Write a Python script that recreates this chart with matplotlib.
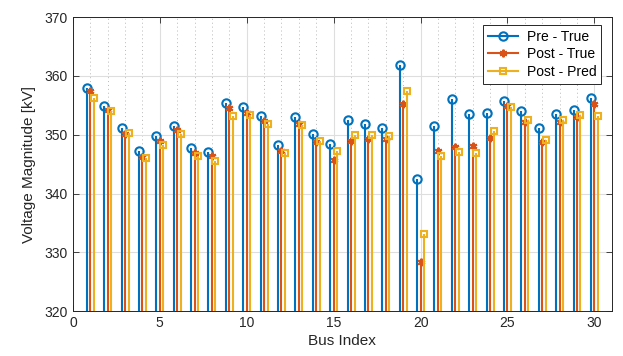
import matplotlib
matplotlib.use("Agg")
import matplotlib.pyplot as plt
import numpy as np
from matplotlib.legend_handler import HandlerLine2D
from matplotlib.lines import Line2D
from matplotlib.ticker import MultipleLocator

plt.rcParams["font.family"] = ["Liberation Sans", "DejaVu Sans"]

bus = np.arange(1, 31)
pre_true = [358.0, 354.8, 351.15, 347.3, 349.7, 351.55, 347.8, 347.1, 355.4, 354.65,
            353.2, 348.3, 352.95, 350.2, 348.5, 352.5, 351.8, 351.1, 361.9, 342.5,
            351.5, 356.1, 353.6, 353.7, 355.8, 354.1, 351.1, 353.5, 354.2, 356.2]
post_true = [357.4, 354.25, 350.2, 346.15, 348.85, 350.75, 346.9, 346.3, 354.5, 353.7,
             352.3, 347.3, 351.8, 348.7, 345.7, 349.0, 349.2, 349.3, 355.3, 328.3,
             347.3, 347.9, 348.0, 349.5, 354.8, 352.1, 348.7, 352.1, 352.95, 355.2]
post_pred = [356.2, 354.1, 350.25, 346.0, 348.3, 350.2, 346.3, 345.6, 353.1, 353.35,
             351.9, 346.9, 351.6, 348.9, 347.2, 349.9, 350.0, 349.85, 357.5, 333.2,
             346.4, 347.1, 346.9, 350.7, 354.65, 352.45, 349.1, 352.45, 353.4, 353.1]
labels = ["Pre - True", "Post - True", "Post - Pred"]

colors = ["#0072BD", "#D95319", "#EDB120"]
markers = ["o", (6, 2, 0), "s"]
msizes = [6, 5.5, 4.5]
offsets = [-0.2, 0.0, 0.2]


class RightMarkerHandler(HandlerLine2D):
    # MATLAB-style legend: marker sits at the right end of the line
    def get_xdata(self, legend, xdescent, ydescent, width, height, fontsize):
        xdata = [-xdescent, -xdescent + width]
        return xdata, [-xdescent + width - 2]


fig = plt.figure(figsize=(6.23, 3.56), dpi=100)
ax = fig.add_axes([0.117, 0.126, 0.865, 0.826])

handles = []
for vals, c, m, ms, off, lab in zip([pre_true, post_true, post_pred], colors,
                                     markers, msizes, offsets, labels):
    st = ax.stem(bus + off, vals, bottom=0, basefmt=" ")
    st.stemlines.set_color(c)
    st.stemlines.set_linewidth(1.5)
    ml = st.markerline
    ml.set_marker(m)
    ml.set_markersize(ms)
    ml.set_color(c)
    ml.set_markeredgewidth(1.5)
    ml.set_markerfacecolor("none" if m != markers[1] else c)
    h = Line2D([], [], color=c, lw=1.5, marker=m, ms=ms, mew=1.5,
               mfc="none" if m != markers[1] else c)
    handles.append(h)

ax.set_xlim(0, 31)
ax.set_ylim(320, 370)
ax.xaxis.set_major_locator(MultipleLocator(5))
ax.xaxis.set_minor_locator(MultipleLocator(1))
ax.yaxis.set_major_locator(MultipleLocator(10))

ax.grid(True, which="major", color="#dedede", lw=0.8)
ax.grid(True, which="minor", axis="x", color="#b8b8b8", lw=0.7, ls=(0, (1, 3)))
ax.set_axisbelow(True)

ax.tick_params(which="major", direction="in", length=4, width=0.6,
               top=True, right=True, labelsize=10, colors="#262626")
ax.tick_params(which="minor", length=0, top=True, right=True)
for s in ax.spines.values():
    s.set_color("#262626")
    s.set_linewidth(0.7)

ax.set_xlabel("Bus Index", fontsize=11, color="#262626", labelpad=3)
ax.set_ylabel("Voltage Magnitude [kV]", fontsize=11, color="#262626", labelpad=6)

leg = ax.legend(handles, labels, loc="upper right", bbox_to_anchor=(0.98, 0.973),
                borderaxespad=0, fontsize=10, fancybox=False, framealpha=1,
                edgecolor="#262626", handlelength=2.2, handletextpad=0.6,
                labelspacing=0.25, borderpad=0.35,
                handler_map={Line2D: RightMarkerHandler()})
leg.get_frame().set_linewidth(0.7)

fig.savefig("out.png", dpi=100)
